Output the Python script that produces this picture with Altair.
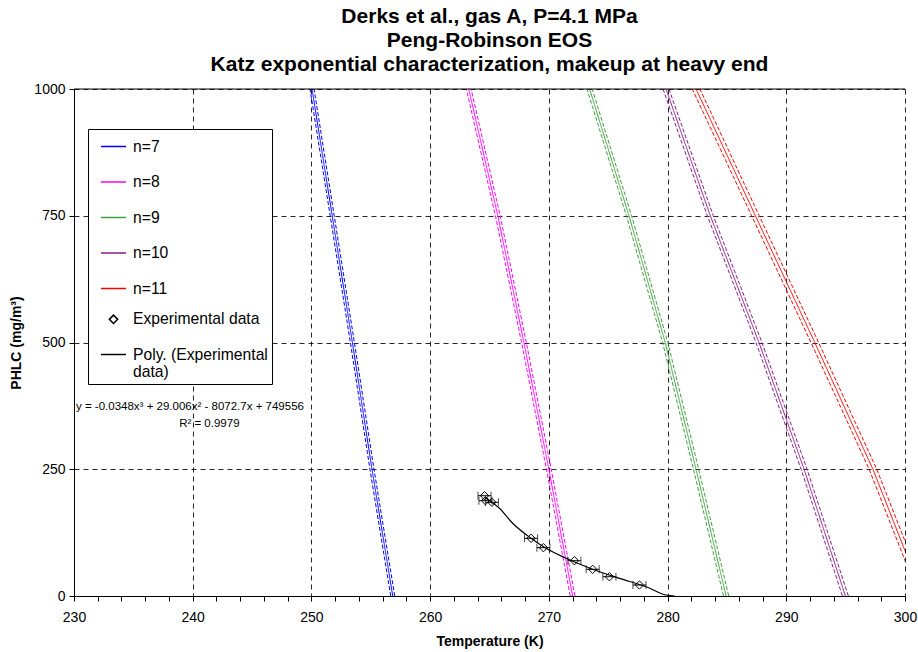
import altair as alt
import pandas as pd

# PHLC levels (mg/m3) at which each model curve is tabulated
phlc_levels = [0, 250, 500, 750, 1000]

# Temperature (K) of each Peng-Robinson / Katz curve at those PHLC levels
t_n7 = [256.85, 255.10, 253.45, 251.75, 250.05]
t_n8 = [272.00, 270.00, 267.90, 265.70, 263.25]
t_n9 = [284.93, 282.40, 279.80, 276.75, 273.43]
t_n10 = [294.98, 291.50, 287.70, 283.60, 279.87]
t_n11 = [301.50, 297.30, 292.40, 287.40, 282.40]

series_names = ["n=7", "n=8", "n=9", "n=10", "n=11"]
series_temps = [t_n7, t_n8, t_n9, t_n10, t_n11]
# half-width (K) of the dashed uncertainty lines either side of each curve
band_halfwidth = [0.17, 0.20, 0.22, 0.25, 0.32]

# Experimental dew-point data with temperature uncertainty
exp_T = [264.58, 264.66, 265.20, 268.50, 269.54, 272.15, 273.69, 275.10, 277.63]
exp_P = [197.8, 188.0, 184.8, 113.8, 95.3, 69.6, 52.6, 38.0, 21.7]
exp_err = [0.55, 0.55, 0.55, 0.55, 0.55, 0.55, 0.55, 0.55, 0.55]

# Cubic trend line through the experimental data
poly_T = [264.58, 265.84, 266.95, 268.50, 269.76, 271.45, 273.69, 275.94, 278.19, 279.87, 280.60]
poly_P = [195.0, 173.0, 143.4, 113.8, 94.0, 74.4, 52.7, 34.9, 18.3, 2.0, 0.0]

legend_labels = series_names + ["Experimental data", "Poly. (Experimental data)"]
legend_colors = ["#0000ff", "#ff00ff", "#3fa03f", "#8b1c8b", "#ff0000", "#000000", "#000000"]
legend_shapes = ["stroke"] * 5 + ["diamond", "stroke"]
legend_sizes = [625] * 5 + [70, 625]

FONT = "Liberation Sans"
NBSP = "\u00a0"

rows = []
for name, temps, hw in zip(series_names, series_temps, band_halfwidth):
    for t, p in zip(temps, phlc_levels):
        rows.append({"series": name, "curve": "center", "T": t, "PHLC": p})
        rows.append({"series": name, "curve": "lower", "T": t - hw, "PHLC": p})
        rows.append({"series": name, "curve": "upper", "T": t + hw, "PHLC": p})
model_df = pd.DataFrame(rows)

exp_df = pd.DataFrame({
    "series": "Experimental data",
    "T": exp_T,
    "PHLC": exp_P,
    "lo": [t - e for t, e in zip(exp_T, exp_err)],
    "hi": [t + e for t, e in zip(exp_T, exp_err)],
})
poly_df = pd.DataFrame({"series": "Poly. (Experimental data)", "T": poly_T, "PHLC": poly_P})

x_scale = alt.Scale(domain=[230, 300], nice=False, zero=False)
y_scale = alt.Scale(domain=[0, 1000], nice=False)
color_scale = alt.Scale(domain=legend_labels, range=legend_colors)
shape_scale = alt.Scale(domain=legend_labels, range=legend_shapes)
size_scale = alt.Scale(type="ordinal", domain=legend_labels, range=legend_sizes)

x_axis = alt.Axis(
    values=list(range(230, 301, 2)),
    tickCount=200,
    format="d",
    labelExpr="datum.value % 10 === 0 ? datum.label : ''",
    title="Temperature (K)",
    grid=True,
    gridColor="#000000",
    gridDash=[5, 4],
    gridOpacity=alt.condition("datum.value % 10 === 0", alt.value(0.85), alt.value(0)),
    tickSize=5,
    tickColor="#000000",
    domainColor="#000000",
    labelFlush=False,
    labelOverlap=False,
    labelFontSize=14,
    labelPadding=9,
    titleFontSize=14,
    titlePadding=10,
)
y_axis = alt.Axis(
    values=[0, 250, 500, 750, 1000],
    format="d",
    title="PHLC (mg/m³)",
    grid=True,
    gridColor="#000000",
    gridDash=[5, 4],
    gridOpacity=0.85,
    tickSize=5,
    tickColor="#000000",
    domainColor="#000000",
    labelFlush=False,
    labelFontSize=14,
    labelPadding=4,
    titleFontSize=14,
    titlePadding=10,
)

# The trend-line label wraps onto a second line inside the legend box.
legend = alt.Legend(
    title=None,
    orient="none",
    legendX=14,
    legendY=40,
    direction="vertical",
    strokeColor="#000000",
    fillColor="#ffffff",
    padding=4,
    symbolOffset=8,
    rowPadding=13.5,
    labelFontSize=15.7,
    labelFont=FONT,
    labelLimit=300,
    labelOffset=6,
    symbolStrokeWidth=1.5,
    symbolOpacity=1,
    labelExpr=(
        "datum.label == 'Poly. (Experimental data)' ? "
        "['Poly. (Experimental" + NBSP * 4 + "', 'data)'] : datum.label"
    ),
)

base_x = alt.X("T:Q", scale=x_scale, axis=x_axis)
base_y = alt.Y("PHLC:Q", scale=y_scale, axis=y_axis)

model_lines = alt.Chart(model_df).mark_line(strokeWidth=1, clip=True).encode(
    x=base_x,
    y=base_y,
    color=alt.Color("series:N", scale=color_scale, legend=legend),
    detail="curve:N",
    strokeDash=alt.StrokeDash(
        "curve:N",
        scale=alt.Scale(domain=["center", "lower", "upper"], range=[[1, 0], [4, 2], [4, 2]]),
        legend=None,
    ),
    order=alt.Order("PHLC:Q"),
)

poly_line = alt.Chart(poly_df).mark_line(strokeWidth=1.2, clip=True, interpolate="monotone").encode(
    x=base_x,
    y=base_y,
    color=alt.Color("series:N", scale=color_scale, legend=legend),
    order=alt.Order("T:Q"),
)

err_rule = alt.Chart(exp_df).mark_rule(color="#000000", strokeWidth=1).encode(
    x=alt.X("lo:Q", scale=x_scale),
    x2="hi:Q",
    y=alt.Y("PHLC:Q", scale=y_scale),
)
err_lo = alt.Chart(exp_df).mark_tick(color="#000000", orient="vertical", size=8, thickness=1).encode(
    x=alt.X("lo:Q", scale=x_scale),
    y=alt.Y("PHLC:Q", scale=y_scale),
)
err_hi = alt.Chart(exp_df).mark_tick(color="#000000", orient="vertical", size=8, thickness=1).encode(
    x=alt.X("hi:Q", scale=x_scale),
    y=alt.Y("PHLC:Q", scale=y_scale),
)

exp_points = alt.Chart(exp_df).mark_point(filled=False, strokeWidth=1, opacity=1).encode(
    x=base_x,
    y=base_y,
    color=alt.Color("series:N", scale=color_scale, legend=legend),
    shape=alt.Shape("series:N", scale=shape_scale, legend=legend),
    size=alt.Size("series:N", scale=size_scale, legend=legend),
)

# Trend-line equation, placed in data coordinates
eq_df = pd.DataFrame({
    "T": [239.77, 241.4],
    "PHLC": [372.0, 339.0],
    "txt": ["y = -0.0348x³ + 29.006x² - 8072.7x + 749556", "R² = 0.9979"],
})
eq_text = alt.Chart(eq_df).mark_text(font=FONT, fontSize=11.5, color="#000000", align="center", baseline="middle").encode(
    x=alt.X("T:Q", scale=x_scale),
    y=alt.Y("PHLC:Q", scale=y_scale),
    text="txt:N",
)

top_df = pd.DataFrame({"PHLC": [1000]})
top_rule = alt.Chart(top_df).mark_rule(color="#000000", strokeWidth=1).encode(
    y=alt.Y("PHLC:Q", scale=y_scale)
)

chart = alt.layer(
    model_lines, poly_line, err_rule, err_lo, err_hi, exp_points, eq_text, top_rule
).properties(
    width=831,
    height=507,
    title=alt.Title(
        text=[
            "Derks et al., gas A, P=4.1 MPa",
            "Peng-Robinson EOS",
            "Katz exponential characterization, makeup at heavy end",
        ],
        font=FONT,
        fontSize=21,
        fontWeight="bold",
        anchor="middle",
        lineHeight=24,
        offset=7,
        color="#000000",
    ),
    autosize=alt.AutoSizeParams(type="none"),
    padding={"left": 74, "top": 89, "right": 13, "bottom": 56},
).configure(
    font=FONT,
    background="#ffffff",
).configure_view(
    stroke=None,
).configure_axis(
    labelFont=FONT,
    titleFont=FONT,
    labelColor="#000000",
    titleColor="#000000",
    titleFontWeight="bold",
)

chart.save("out.html", embed_options={"renderer": "svg", "actions": False})
